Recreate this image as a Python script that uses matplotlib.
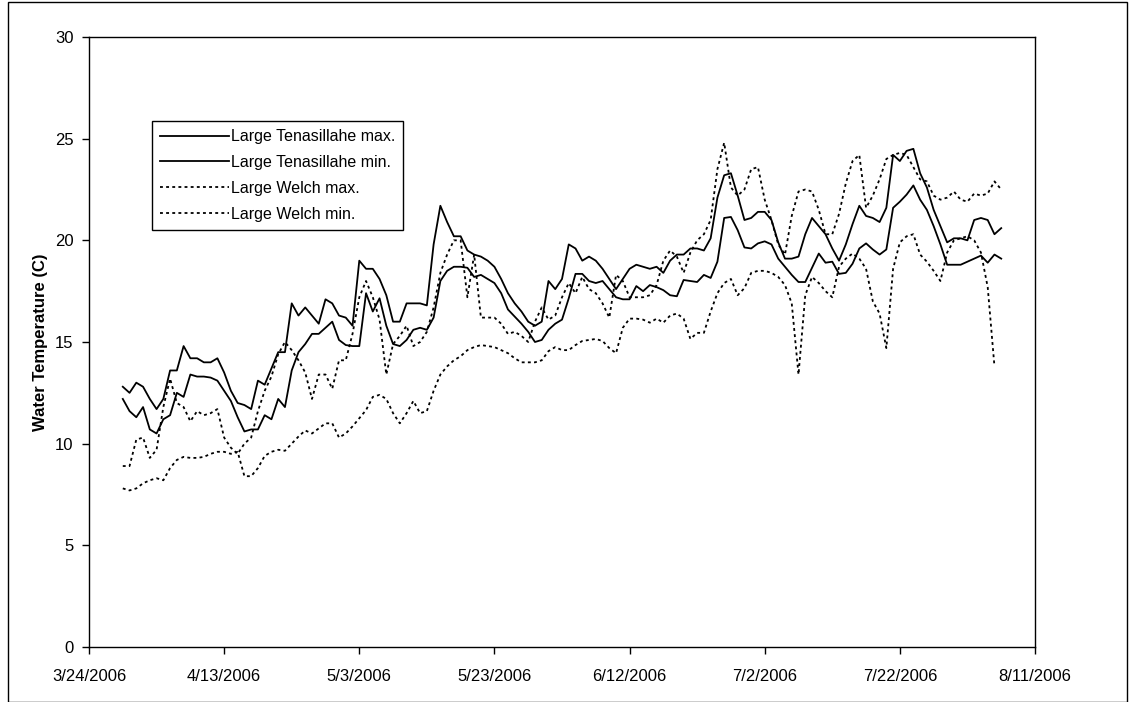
import datetime as dt
import numpy as np
import pandas as pd
import matplotlib
matplotlib.use("Agg")
import matplotlib.pyplot as plt
from matplotlib.patches import Rectangle

plt.rcParams['font.family'] = ['Liberation Sans', 'DejaVu Sans']

# daily readings, 3/29/2006 .. 8/6/2006
dates = pd.date_range("2006-03-29", "2006-08-06", freq="D")

tenasillahe_max = [
    12.8, 12.5, 13.0, 12.8, 12.2, 11.7, 12.2, 13.6, 13.6, 14.8,
    14.2, 14.2, 14.0, 14.0, 14.2, 13.5, 12.6, 12.0, 11.9, 11.7,
    13.1, 12.9, 13.7, 14.5, 14.5, 16.9, 16.3, 16.7, 16.3, 15.9,
    17.1, 16.9, 16.3, 16.2, 15.8, 19.0, 18.6, 18.6, 18.1, 17.3,
    16.0, 16.0, 16.9, 16.9, 16.9, 16.8, 19.8, 21.7, 20.9, 20.2,
    20.2, 19.5, 19.3, 19.2, 19.0, 18.7, 18.1, 17.4, 16.9, 16.5,
    16.0, 15.8, 16.0, 18.0, 17.6, 18.1, 19.8, 19.6, 19.0, 19.2,
    19.0, 18.6, 18.1, 17.6, 18.1, 18.6, 18.8, 18.7, 18.6, 18.7,
    18.4, 19.0, 19.3, 19.3, 19.6, 19.6, 19.5, 20.1, 22.1, 23.2,
    23.3, 22.2, 21.0, 21.1, 21.4, 21.4, 21.0, 19.9, 19.1, 19.1,
    19.2, 20.3, 21.1, 20.7, 20.3, 19.6, 19.0, 19.8, 20.8, 21.7,
    21.2, 21.1, 20.9, 21.6, 24.2, 23.9, 24.4, 24.5, 23.3, 22.6,
    21.5, 20.7, 19.9, 20.1, 20.1, 20.0, 21.0, 21.1, 21.0, 20.3,
    20.6,
]

tenasillahe_min = [
    12.2, 11.6, 11.3, 11.8, 10.7, 10.5, 11.2, 11.4, 12.5, 12.3,
    13.4, 13.3, 13.3, 13.25, 13.1, 12.6, 12.1, 11.3, 10.6, 10.7,
    10.7, 11.4, 11.2, 12.2, 11.8, 13.6, 14.5, 14.9, 15.4, 15.4,
    15.7, 16.0, 15.1, 14.85, 14.8, 14.8, 17.4, 16.5, 17.15, 15.8,
    14.9, 14.8, 15.1, 15.6, 15.7, 15.6, 16.2, 18.0, 18.5, 18.7,
    18.7, 18.65, 18.2, 18.3, 18.1, 17.9, 17.4, 16.6, 16.25, 15.9,
    15.5, 15.0, 15.1, 15.6, 15.9, 16.1, 17.15, 18.35, 18.35, 18.0,
    17.9, 18.0, 17.6, 17.2, 17.1, 17.1, 17.75, 17.5, 17.8, 17.7,
    17.55, 17.3, 17.25, 18.05, 18.0, 17.95, 18.3, 18.15, 18.95, 21.1,
    21.15, 20.5, 19.65, 19.6, 19.85, 19.95, 19.8, 19.1, 18.7, 18.3,
    17.95, 17.95, 18.65, 19.35, 18.9, 18.95, 18.35, 18.4, 18.85, 19.6,
    19.85, 19.55, 19.3, 19.55, 21.6, 21.9, 22.25, 22.7, 22.0, 21.5,
    20.7, 19.8, 18.8, 18.8, 18.8, 18.95, 19.1, 19.25, 18.9, 19.3,
    19.1,
]

welch_max = [
    8.9, 8.9, 10.2, 10.3, 9.3, 9.7, 11.8, 13.2, 12.0, 11.8,
    11.1, 11.6, 11.4, 11.5, 11.7, 10.3, 9.8, 9.5, 10.0, 10.3,
    11.6, 12.6, 13.3, 14.4, 15.0, 14.6, 14.1, 13.5, 12.2, 13.4,
    13.4, 12.7, 14.1, 14.1, 15.4, 17.2, 18.0, 17.2, 16.1, 13.4,
    14.9, 15.3, 15.8, 14.8, 15.0, 15.5, 16.7, 18.4, 19.3, 20.0,
    20.0, 17.2, 19.3, 16.2, 16.2, 16.2, 15.9, 15.4, 15.5, 15.3,
    15.0, 16.0, 16.7, 16.1, 16.3, 17.2, 17.9, 17.4, 18.2, 17.6,
    17.4, 16.9, 16.2, 18.3, 18.0, 17.2, 17.2, 17.2, 17.3, 17.8,
    19.0, 19.5, 19.2, 18.4, 19.4, 20.0, 20.3, 21.0, 23.5, 24.8,
    22.6, 22.2, 22.5, 23.5, 23.6, 22.0, 21.0, 19.8, 19.3, 21.2,
    22.4, 22.5, 22.4, 21.5, 20.3, 20.3, 21.3, 22.8, 23.9, 24.2,
    21.6, 22.2, 23.0, 24.0, 24.2, 24.3, 24.2, 23.6, 23.0, 22.9,
    22.2, 22.0, 22.1, 22.4, 22.0, 21.9, 22.3, 22.2, 22.3, 22.9,
    22.5,
]

welch_min = [
    7.8, 7.7, 7.8, 8.05, 8.2, 8.3, 8.2, 8.8, 9.2, 9.35,
    9.3, 9.3, 9.35, 9.5, 9.6, 9.6, 9.5, 9.6, 8.4, 8.4,
    8.8, 9.4, 9.6, 9.7, 9.65, 10.0, 10.35, 10.65, 10.5, 10.75,
    11.0, 11.0, 10.3, 10.5, 10.85, 11.25, 11.65, 12.3, 12.4, 12.2,
    11.5, 11.0, 11.5, 12.1, 11.5, 11.6, 12.6, 13.4, 13.8, 14.1,
    14.3, 14.6, 14.75, 14.85, 14.8, 14.75, 14.6, 14.45, 14.2, 14.0,
    14.0, 14.0, 14.1, 14.55, 14.75, 14.6, 14.6, 14.85, 15.05, 15.1,
    15.15, 15.05, 14.7, 14.45, 15.7, 16.15, 16.15, 16.1, 15.95, 16.15,
    15.95, 16.3, 16.4, 16.15, 15.15, 15.45, 15.45, 16.5, 17.4, 17.9,
    18.1, 17.3, 17.65, 18.4, 18.5, 18.5, 18.4, 18.2, 17.8, 16.9,
    13.4, 17.3, 18.2, 17.9, 17.5, 17.2, 18.7, 19.1, 19.35, 19.1,
    18.6, 17.0, 16.4, 14.7, 18.6, 19.9, 20.2, 20.3, 19.3, 18.95,
    18.5, 18.0, 19.4, 20.0, 20.1, 20.2, 20.0, 19.4, 17.7, 13.8,
    np.nan,
]

tick_dates = pd.date_range("2006-03-24", "2006-08-11", freq="20D")
tick_labels = [f"{d.month}/{d.day}/{d.year}" for d in tick_dates]

fig = plt.figure(figsize=(11.35, 7.02), dpi=100)
ax = fig.add_axes([89 / 1135, 1 - 647 / 702, (1035 - 89) / 1135, (647 - 37) / 702])

dot = (0, (1.6, 1.8))
ax.plot(dates, tenasillahe_max, color='black', lw=1.3, label='Large Tenasillahe max.')
ax.plot(dates, tenasillahe_min, color='black', lw=1.3, label='Large Tenasillahe min.')
ax.plot(dates, welch_max, color='black', lw=1.3, linestyle=dot, label='Large Welch max.')
ax.plot(dates, welch_min, color='black', lw=1.3, linestyle=dot, label='Large Welch min.')

ax.set_xlim(tick_dates[0], tick_dates[-1])
ax.set_xticks(tick_dates)
ax.set_xticklabels(tick_labels)
ax.set_ylim(0, 30)
ax.set_yticks(range(0, 31, 5))
ax.tick_params(direction='out', length=5, width=1, labelsize=12, colors='black')
ax.tick_params(axis='x', pad=11)
ax.tick_params(axis='y', pad=6)
ax.set_ylabel("Water Temperature (C)", fontsize=12, fontweight='bold', labelpad=5)

for s in ax.spines.values():
    s.set_linewidth(1)
    s.set_color('black')

leg = ax.legend(loc='upper left', bbox_to_anchor=(0.067, 0.862), borderaxespad=0,
                fancybox=False, edgecolor='black', framealpha=1, fontsize=11.5,
                handlelength=4.3, handletextpad=0.1, labelspacing=0.68,
                borderpad=0.5)
leg.get_frame().set_linewidth(1)

# outer chart border
fig.patches.append(Rectangle((8 / 1135, 0), (1127 - 8) / 1135, 1 - 2 / 702,
                             transform=fig.transFigure, fill=False,
                             edgecolor='black', lw=1))

fig.savefig("out.png", dpi=100)
